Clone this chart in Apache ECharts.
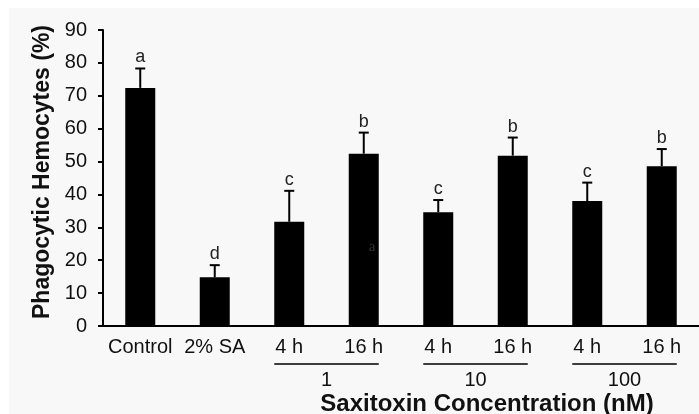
<!DOCTYPE html>
<html>
<head>
<meta charset="utf-8">
<script src="https://cdn.jsdelivr.net/npm/echarts@6/dist/echarts.min.js"></script>
<style>
  html, body { margin: 0; padding: 0; background: #fff; }
  #chart { width: 699px; height: 414px; }
</style>
</head>
<body>
<div id="chart"></div>
<script>
// categories and values
var categories = ['Control', '2% SA', '4 h', '16 h', '4 h', '16 h', '4 h', '16 h'];
var means = [72.4, 14.8, 31.7, 52.4, 34.6, 51.8, 38.0, 48.6];
var errors = [5.9, 3.7, 9.4, 6.4, 3.7, 5.5, 5.6, 5.2];
var letters = ['a', 'd', 'c', 'b', 'c', 'b', 'c', 'b'];
// concentration groups: first index, last index, label
var groups = [[2, 3, '1'], [4, 5, '10'], [6, 7, '100']];

var font = '"Liberation Sans", Arial, sans-serif';
var chart = echarts.init(document.getElementById('chart'));

var errData = means.map(function (m, i) { return [i, m, m + errors[i]]; });

var option = {
  backgroundColor: '#fff',
  animation: false,
  grid: { left: 103, top: 30, width: 602, height: 296 },
  xAxis: {
    type: 'category',
    data: categories,
    axisLine: { lineStyle: { color: '#000', width: 2 } },
    axisTick: { show: false },
    axisLabel: { color: '#111', fontSize: 20, fontFamily: font, margin: 11, interval: 0 }
  },
  yAxis: {
    type: 'value',
    min: 0, max: 90, interval: 10,
    name: 'Phagocytic Hemocytes (%)',
    nameLocation: 'middle',
    nameGap: 47,
    nameTextStyle: { color: '#111', fontSize: 23, fontWeight: 'bold', fontFamily: font, padding: [0, 0, 0, 12] },
    axisLine: { show: true, lineStyle: { color: '#000', width: 2 } },
    axisTick: { show: true, length: 5, lineStyle: { color: '#000', width: 2 } },
    axisLabel: { color: '#111', fontSize: 20, fontFamily: font, margin: 16 },
    splitLine: { show: false }
  },
  series: [
    {
      type: 'bar',
      data: means,
      barWidth: 30,
      itemStyle: { color: '#000' },
      z: 2
    },
    {
      type: 'custom',
      data: errData,
      z: 3,
      renderItem: function (params, api) {
        var base = api.coord([api.value(0), api.value(1)]);
        var top = api.coord([api.value(0), api.value(2)]);
        return {
          type: 'group',
          children: [
            { type: 'line', shape: { x1: base[0], y1: base[1], x2: top[0], y2: top[1] }, style: { stroke: '#000', lineWidth: 2 } },
            { type: 'line', shape: { x1: top[0] - 5, y1: top[1], x2: top[0] + 5, y2: top[1] }, style: { stroke: '#000', lineWidth: 2 } },
            { type: 'text', x: top[0], y: top[1] - 2,
              style: { text: letters[params.dataIndex], align: 'center', verticalAlign: 'bottom',
                       font: '18px ' + font, fill: '#222' } }
          ]
        };
      }
    }
  ]
};
chart.setOption(option);

// group brackets under the time labels, placed from the axis scale
var graphics = [
  { type: 'rect', left: 9, top: 8, shape: { width: 690, height: 406 }, style: { fill: '#f8f8f8' }, z: -10, silent: true }
];
var y0 = chart.convertToPixel({ yAxisIndex: 0 }, 0);
groups.forEach(function (g) {
  var xa = chart.convertToPixel({ xAxisIndex: 0 }, g[0]) - 15;
  var xb = chart.convertToPixel({ xAxisIndex: 0 }, g[1]) + 15;
  graphics.push({ type: 'line', shape: { x1: xa, y1: y0 + 38, x2: xb, y2: y0 + 38 }, style: { stroke: '#000', lineWidth: 1.5 } });
  graphics.push({ type: 'text', x: (xa + xb) / 2, y: y0 + 54,
    style: { text: g[2], align: 'center', verticalAlign: 'middle', font: '20px ' + font, fill: '#111' } });
});
graphics.push({ type: 'text', x: 487, y: y0 + 78,
  style: { text: 'Saxitoxin Concentration (nM)', align: 'center', verticalAlign: 'middle',
           font: 'bold 24px ' + font, fill: '#111' } });
// faint stray glyph visible on the figure
graphics.push({ type: 'text', x: 372, y: 247, z: 10,
  style: { text: 'a', align: 'center', verticalAlign: 'middle', font: '15px "Liberation Serif", serif', fill: '#333' } });
chart.setOption({ graphic: graphics });
</script>
</body>
</html>
